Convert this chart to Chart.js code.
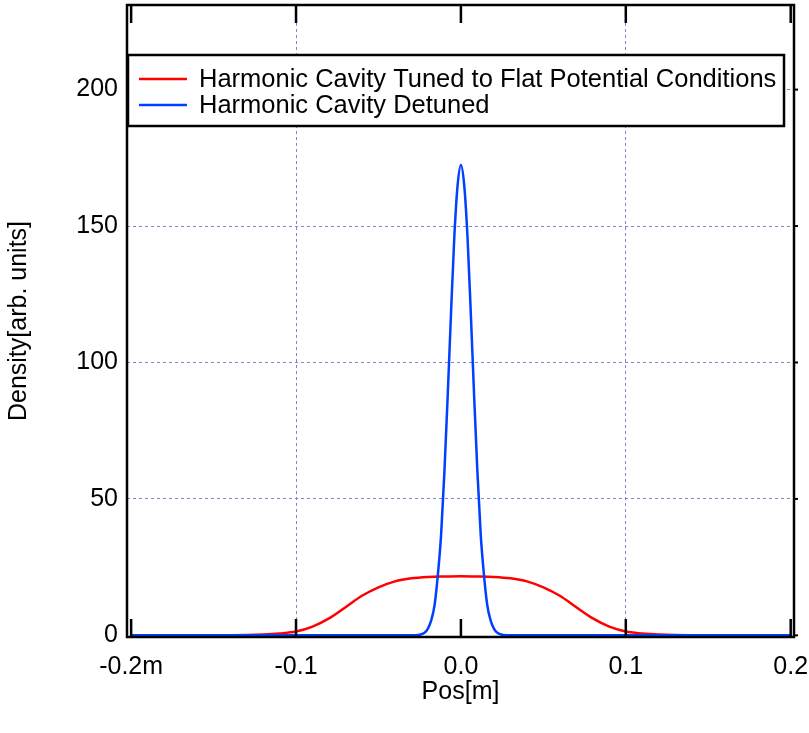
<!DOCTYPE html>
<html>
<head>
<meta charset="utf-8">
<script src="https://cdn.jsdelivr.net/npm/chart.js@4/dist/chart.umd.min.js"></script>
<style>
    body { margin: 0; background: #fff; }
    #box { width: 809px; height: 733px; }
</style>
</head>
<body>
<div id="box"><canvas id="density"></canvas></div>
<script>
const x_ticks = [-0.2, -0.1, 0.0, 0.1, 0.2];
const y_ticks = [0, 50, 100, 150, 200];

const legend_labels = ['Harmonic Cavity Tuned to Flat Potential Conditions', 'Harmonic Cavity Detuned'];

// flat potential (red)
const tuned_pos = [-0.2, -0.15, -0.13, -0.12, -0.11, -0.1, -0.09, -0.08, -0.07, -0.06, -0.05, -0.04, -0.03, -0.02, -0.01, 0,
    0.01, 0.02, 0.03, 0.04, 0.05, 0.06, 0.07, 0.08, 0.09, 0.1, 0.11, 0.12, 0.13, 0.15, 0.2];
const tuned_density = [0, 0, 0.1, 0.3, 0.7, 1.4, 3.2, 6.2, 10.3, 14.5, 17.6, 19.8, 20.9, 21.4, 21.6, 21.7,
    21.6, 21.4, 20.9, 19.8, 17.6, 14.5, 10.3, 6.2, 3.2, 1.4, 0.7, 0.3, 0.1, 0, 0];

// detuned (blue)
const detuned_pos = [-0.2, -0.03, -0.026, -0.024, -0.022, -0.02, -0.018, -0.016, -0.014, -0.012, -0.01, -0.008, -0.006, -0.004, -0.002, 0,
    0.002, 0.004, 0.006, 0.008, 0.01, 0.012, 0.014, 0.016, 0.018, 0.02, 0.022, 0.024, 0.026, 0.03, 0.2];
const detuned_density = [0, 0, 0.1, 0.4, 1.0, 2.5, 5.5, 11, 22, 37, 60, 88, 118, 146, 165, 172.4,
    165, 146, 118, 88, 60, 37, 22, 11, 5.5, 2.5, 1.0, 0.4, 0.1, 0, 0];

const FONT = "'Liberation Sans', Arial, sans-serif";
const FONT_SIZE = 25;

function toPoints(xs, ys) {
    return xs.map(function (v, i) { return { x: v, y: ys[i] }; });
}

// frame, inward ticks and the boxed legend
const frame_plugin = {
    id: 'frame',
    afterDraw(chart) {
        const ctx = chart.ctx;
        const area = chart.chartArea;
        const xs = chart.scales.x;
        const ys = chart.scales.y;
        ctx.save();
        ctx.strokeStyle = '#000';
        ctx.lineWidth = 2.5;
        ctx.setLineDash([]);
        ctx.strokeRect(area.left, area.top, area.right - area.left, area.bottom - area.top);

        x_ticks.forEach(function (v) {
            const px = xs.getPixelForValue(v);
            ctx.beginPath();
            ctx.moveTo(px, area.bottom);
            ctx.lineTo(px, area.bottom - 18);
            ctx.moveTo(px, area.top);
            ctx.lineTo(px, area.top + 18);
            ctx.stroke();
        });
        ctx.lineWidth = 2;
        y_ticks.forEach(function (v) {
            const py = ys.getPixelForValue(v);
            ctx.beginPath();
            ctx.moveTo(area.right, py);
            ctx.lineTo(area.right + 4, py);
            ctx.stroke();
        });

        // legend
        const lx = 128, ly = 55, lw = 656, lh = 71;
        ctx.fillStyle = '#fff';
        ctx.fillRect(lx, ly, lw, lh);
        ctx.lineWidth = 2.5;
        ctx.strokeRect(lx, ly, lw, lh);
        const colors = ['rgb(255,0,0)', 'rgb(0,64,255)'];
        const rows = [79, 105];
        ctx.font = '25.5px ' + FONT;
        ctx.textBaseline = 'middle';
        ctx.textAlign = 'left';
        legend_labels.forEach(function (t, i) {
            ctx.strokeStyle = colors[i];
            ctx.lineWidth = 2.5;
            ctx.beginPath();
            ctx.moveTo(139, rows[i]);
            ctx.lineTo(187, rows[i]);
            ctx.stroke();
            ctx.fillStyle = '#000';
            ctx.fillText(t, 199, rows[i] + 1);
        });
        ctx.restore();
    }
};

const grid_style = {
    color: function (c) {
        if (c.tick && (c.tick.value === 0 || Math.abs(c.tick.value) > 0.15 && c.scale.axis === 'x')) return 'rgba(0,0,0,0)';
        return 'rgba(110,110,190,0.85)';
    },
    lineWidth: 1,
    drawTicks: false
};

const config = {
    type: 'line',
    data: {
        datasets: [{
            label: legend_labels[0],
            data: toPoints(tuned_pos, tuned_density),
            borderColor: 'rgb(255,0,0)',
            borderWidth: 2.5,
            pointRadius: 0,
            cubicInterpolationMode: 'monotone',
            fill: false,
            order: 1
        },
        {
            label: legend_labels[1],
            data: toPoints(detuned_pos, detuned_density),
            borderColor: 'rgb(0,64,255)',
            borderWidth: 2.5,
            pointRadius: 0,
            cubicInterpolationMode: 'monotone',
            fill: false,
            order: 0
        }]
    },
    options: {
        responsive: true,
        maintainAspectRatio: false,
        animation: false,
        layout: { padding: { top: 5, right: 15, left: 0, bottom: 0 } },
        plugins: {
            legend: { display: false },
            tooltip: { enabled: false }
        },
        scales: {
            x: {
                type: 'linear',
                min: -0.2025,
                max: 0.202,
                afterBuildTicks: function (scale) {
                    scale.ticks = x_ticks.map(function (v) { return { value: v }; });
                },
                afterFit: function (scale) {
                    scale.height = 96;
                    scale.paddingLeft = 0;
                    scale.paddingRight = 0;
                },
                grid: grid_style,
                border: { display: false, dash: [3, 3] },
                ticks: {
                    padding: 15,
                    color: '#000',
                    font: { size: FONT_SIZE, family: FONT },
                    maxRotation: 0,
                    autoSkip: false,
                    callback: function (val) {
                        if (Math.abs(val) < 1e-9) return '0.0';
                        if (val < -0.15) return val.toFixed(1) + 'm';
                        return val.toFixed(1);
                    }
                },
                title: {
                    display: true,
                    text: 'Pos[m]',
                    color: '#000',
                    font: { size: FONT_SIZE, family: FONT },
                    padding: { top: 0, bottom: 26 }
                }
            },
            y: {
                min: -0.6,
                max: 231,
                afterBuildTicks: function (scale) {
                    scale.ticks = y_ticks.map(function (v) { return { value: v }; });
                },
                afterFit: function (scale) {
                    scale.width = 127;
                    scale.paddingTop = 0;
                    scale.paddingBottom = 0;
                },
                grid: grid_style,
                border: { display: false, dash: [3, 3] },
                ticks: {
                    padding: 9,
                    color: '#000',
                    font: { size: FONT_SIZE, family: FONT }
                },
                title: {
                    display: true,
                    text: 'Density[arb. units]',
                    color: '#000',
                    font: { size: FONT_SIZE, family: FONT },
                    padding: { top: 4, bottom: 0 }
                }
            }
        }
    },
    plugins: [frame_plugin]
};

const DENSITY_CHART = new Chart(document.getElementById('density'), config);
</script>
</body>
</html>
